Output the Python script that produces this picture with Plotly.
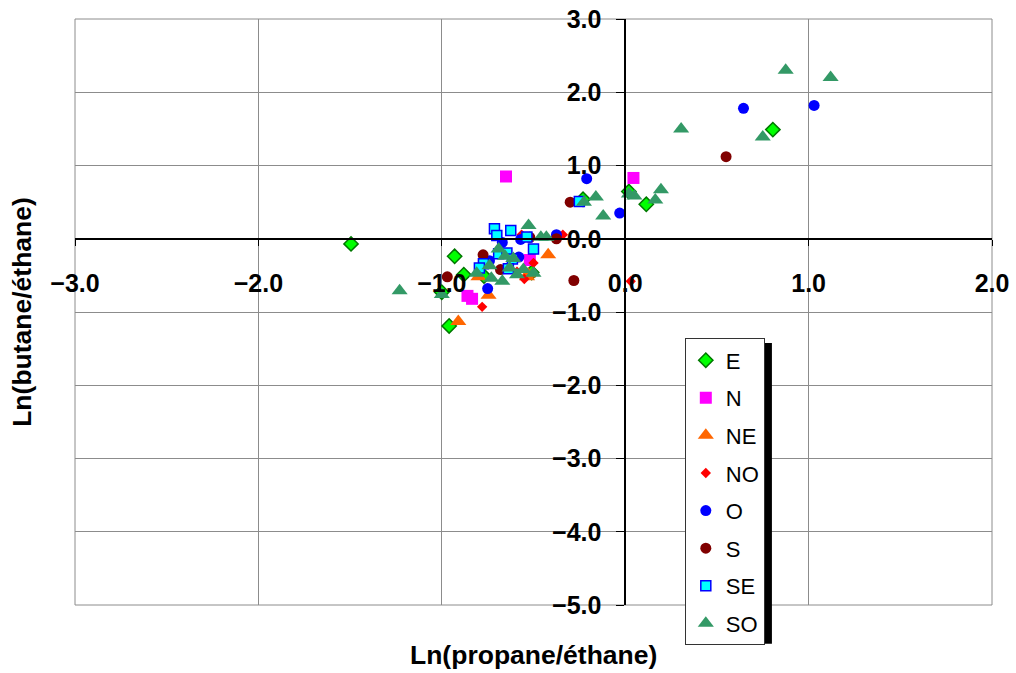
import plotly.graph_objects as go

# ---- data ----
series_names = ["E", "N", "NE", "NO", "O", "S", "SE", "SO"]

E_x = [-1.495, -0.93, -0.88, -1.0, -0.96, -0.77, -0.51, -0.23, 0.02, 0.115, 0.805]
E_y = [-0.07, -0.24, -0.49, -0.73, -1.19, -0.51, -0.46, 0.54, 0.645, 0.47, 1.49]

N_x = [-0.65, 0.045, -0.86, -0.835, -0.52]
N_y = [0.85, 0.83, -0.78, -0.82, -0.29]

NE_x = [-0.91, -0.745, -0.42, -0.535, -0.53, -0.8]
NE_y = [-1.13, -0.77, -0.22, -0.52, -0.48, -0.52]

NO_x = [-0.78, -0.5, -0.34, 0.03, -0.59, -0.565, -0.55]
NO_y = [-0.93, -0.33, 0.055, -0.58, -0.45, 0.055, -0.55]

O_x = [-0.21, -0.03, 0.645, 1.03, -0.75, -0.375, -0.67, -0.57, -0.58, -0.74]
O_y = [0.82, 0.35, 1.78, 1.82, -0.68, 0.055, -0.05, -0.01, -0.25, -0.30]

S_x = [-0.97, -0.775, -0.68, -0.28, -0.30, -0.375, 0.55, -0.52]
S_y = [-0.52, -0.22, -0.42, -0.57, 0.50, 0.0, 1.12, 0.02]

SE_x = [-0.713, -0.624, -0.70, -0.536, -0.50, -0.69, -0.645, -0.615, -0.773, -0.795, -0.637, -0.25]
SE_y = [0.136, 0.113, 0.045, 0.023, -0.14, -0.205, -0.195, -0.277, -0.34, -0.40, -0.41, 0.51]

SO_x = [-1.23, -1.0, 0.305, 0.75, 0.875, 1.12, -0.12, -0.16, -0.225, 0.02, 0.05, 0.164, 0.195,
        -0.527, -0.46, -0.43, -0.69, -0.655, -0.61, -0.74, -0.81, -0.63, -0.59, -0.50, -0.73,
        -0.67, -0.555]
SO_y = [-0.71, -0.76, 1.5, 1.39, 2.3, 2.2, 0.31, 0.57, 0.5, 0.61, 0.585, 0.53, 0.67,
        0.18, 0.02, 0.02, -0.14, -0.24, -0.27, -0.37, -0.47, -0.40, -0.49, -0.47, -0.54,
        -0.58, -0.42]

x_ticks = [-3, -2, -1, 0, 1, 2]
y_ticks = [3, 2, 1, 0, -1, -2, -3, -4, -5]
x_title = "Ln(propane/éthane)"
y_title = "Ln(butane/éthane)"

# ---- styles ----
styles = {
    "E": dict(symbol="diamond", size=11, color="#00ff00", line=dict(color="#007700", width=1.5)),
    "N": dict(symbol="square", size=12, color="#ff00ff", line=dict(width=0)),
    "NE": dict(symbol="triangle-up", size=14, color="#ff6600", line=dict(width=0)),
    "NO": dict(symbol="diamond", size=8, color="#ff0000", line=dict(width=0)),
    "O": dict(symbol="circle", size=11, color="#0000ff", line=dict(width=0)),
    "S": dict(symbol="circle", size=11, color="#800000", line=dict(width=0)),
    "SE": dict(symbol="square", size=10, color="#00ffff", line=dict(color="#0000ff", width=1.5)),
    "SO": dict(symbol="triangle-up", size=14, color="#339966", line=dict(width=0)),
}
data = {"E": (E_x, E_y), "N": (N_x, N_y), "NE": (NE_x, NE_y), "NO": (NO_x, NO_y),
        "O": (O_x, O_y), "S": (S_x, S_y), "SE": (SE_x, SE_y), "SO": (SO_x, SO_y)}

fig = go.Figure()
for name in series_names:
    xs, ys = data[name]
    fig.add_trace(go.Scatter(x=xs, y=ys, mode="markers", name=name,
                             legendgroup=name, marker=styles[name]))

font_main = "Liberation Sans, Arial, sans-serif"
fig.update_layout(
    width=1016, height=673,
    margin=dict(l=75, r=24, t=19, b=68, autoexpand=False),
    paper_bgcolor="white", plot_bgcolor="white",
    font=dict(family=font_main, color="black"),
    xaxis=dict(range=[-3, 2], tickvals=x_ticks, tickformat=".1f",
               anchor="free", position=0.625, automargin=False,
               showgrid=True, gridcolor="#8c8c8c", gridwidth=1,
               zeroline=False, showline=True, linecolor="black", linewidth=1.5,
               ticks="outside", ticklen=6, tickcolor="black",
               ticklabelstandoff=16,
               tickfont=dict(size=25, family=font_main, weight="bold")),
    yaxis=dict(range=[-5, 3], tickvals=y_ticks, tickformat=".1f",
               anchor="free", position=0.6, automargin=False,
               showgrid=True, gridcolor="#8c8c8c", gridwidth=1,
               zeroline=False, showline=True, linecolor="black", linewidth=1.5,
               ticks="outside", ticklen=8, tickcolor="black",
               ticklabelstandoff=10,
               tickfont=dict(size=25, family=font_main, weight="bold")),
    legend=dict(x=0.665, y=0.455, xanchor="left", yanchor="top",
                bgcolor="white", bordercolor="#333333", borderwidth=1,
                font=dict(size=22, family=font_main), tracegroupgap=6,
                traceorder="grouped"),
    shapes=[
        dict(type="rect", xref="paper", yref="paper", x0=0, x1=1, y0=0, y1=1,
             line=dict(color="#8c8c8c", width=1), layer="below"),
        # legend drop shadow
        dict(type="rect", xref="paper", yref="paper", x0=0.672, x1=0.760, y0=-0.066, y1=0.447,
             fillcolor="black", line=dict(width=0), layer="above"),
    ],
    annotations=[
        dict(text=x_title, xref="paper", yref="paper", x=0.5, y=-0.085,
             xanchor="center", yanchor="middle", showarrow=False,
             font=dict(size=26.5, family=font_main, weight="bold")),
        dict(text=y_title, xref="paper", yref="paper", x=-0.058, y=0.5,
             xanchor="center", yanchor="middle", showarrow=False, textangle=-90,
             font=dict(size=26.5, family=font_main, weight="bold")),
    ],
)

fig.write_html("out.html")
